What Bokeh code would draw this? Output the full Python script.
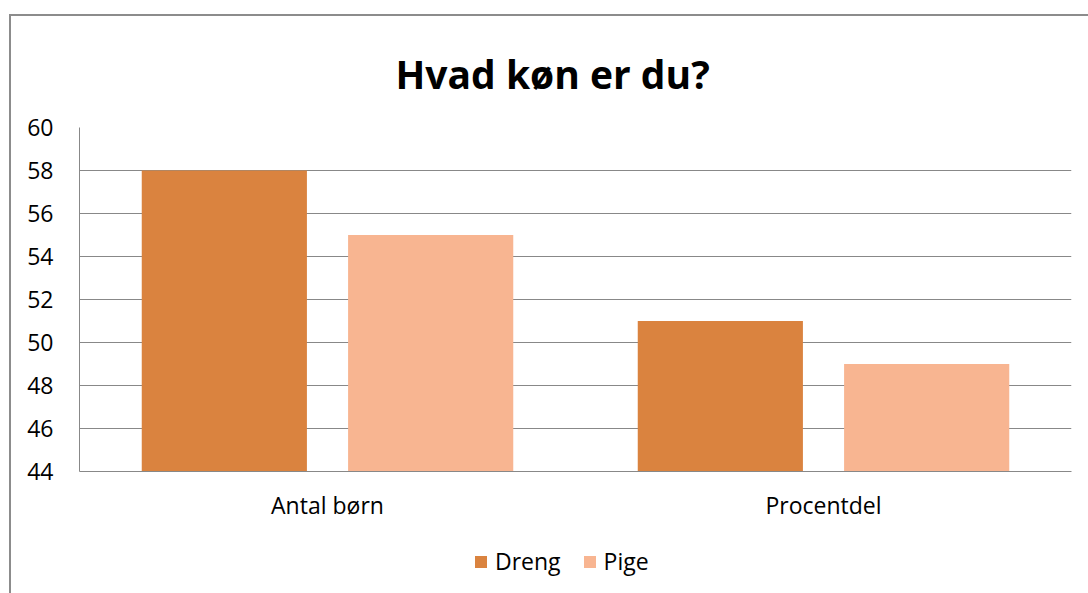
from bokeh.plotting import figure
from bokeh.layouts import column
from bokeh.models import FactorRange, Range1d, Legend, LegendItem, ColumnDataSource, FixedTicker
from bokeh.transform import dodge
from bokeh.embed import file_html
from bokeh.resources import INLINE

categories = ["Antal børn", "Procentdel"]
dreng = [58, 51]
pige = [55, 49]
y_ticks = [44, 46, 48, 50, 52, 54, 56, 58, 60]
series_names = ["Dreng", "Pige"]
series_colors = ["#DA833F", "#F8B591"]

FONT = "Open Sans"
src = ColumnDataSource(dict(cat=categories, dreng=dreng, pige=pige))

p = figure(width=1077, height=520, x_range=FactorRange(*categories, range_padding=0),
           y_range=Range1d(44, 60), output_backend="svg", toolbar_location=None,
           min_border_left=68, min_border_right=17, min_border_top=111, min_border_bottom=65)

p.vbar(x=dodge("cat", -0.208, range=p.x_range), top="dreng", bottom=44, width=0.333,
       source=src, color=series_colors[0], line_color=None)
p.vbar(x=dodge("cat", 0.208, range=p.x_range), top="pige", bottom=44, width=0.333,
       source=src, color=series_colors[1], line_color=None)

p.title.text = "Hvad køn er du?"
p.title.text_font = FONT
p.title.text_font_size = "39px"
p.title.text_font_style = "bold"
p.title.align = "left"
p.title.offset = 316
p.title.standoff = 56
p.title.text_color = "#000000"

p.outline_line_color = None
p.xgrid.grid_line_color = None
p.ygrid.grid_line_color = "#888888"
p.ygrid.grid_line_width = 1
p.yaxis.ticker = FixedTicker(ticks=y_ticks)
for ax in (p.xaxis, p.yaxis):
    ax.axis_line_color = "#888888"
    ax.major_tick_line_color = None
    ax.minor_tick_line_color = None
    ax.major_tick_out = 0
    ax.major_tick_in = 0
    ax.minor_tick_out = 0
    ax.minor_tick_in = 0
    ax.major_label_text_font = FONT
    ax.major_label_text_font_size = "23px"
    ax.major_label_text_color = "#000000"
p.yaxis.major_label_standoff = 26
p.xaxis.major_label_standoff = 17

# legend strip
lg = figure(width=1077, height=57, x_range=Range1d(0, 1), y_range=Range1d(0, 1),
            output_backend="svg", toolbar_location=None, x_axis_type=None, y_axis_type=None,
            min_border=0, min_border_left=0, min_border_right=0, min_border_top=0, min_border_bottom=0)
lg.outline_line_color = None
lg.xgrid.grid_line_color = None
lg.ygrid.grid_line_color = None
hidden = ColumnDataSource(dict(x=[-10], top=[-10]))
rs = [lg.vbar(x="x", top="top", width=0.1, source=hidden, color=c, line_color=None) for c in series_colors]
legend = Legend(items=[LegendItem(label=n, renderers=[r]) for n, r in zip(series_names, rs)],
                orientation="horizontal", location=(394, 16),
                label_text_font=FONT, label_text_font_size="23px", label_text_color="#000000",
                glyph_width=15, glyph_height=15, label_standoff=7, spacing=21,
                border_line_color=None, background_fill_alpha=0, padding=0, margin=0)
lg.add_layout(legend, "center")

layout = column(p, lg, spacing=0)
layout.styles = {"margin-left": "9px", "margin-top": "14px",
                 "border-left": "2px solid #8c8c8c", "border-top": "2px solid #8c8c8c"}

open("out.html", "w").write(file_html(layout, INLINE))
